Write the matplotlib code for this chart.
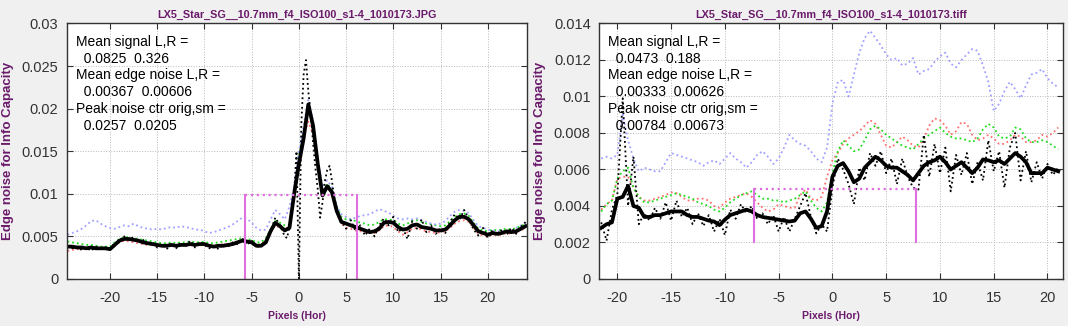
import numpy as np
import matplotlib.pyplot as plt

plt.rcParams['font.family'] = ['Liberation Sans', 'DejaVu Sans']
plt.rcParams['axes.unicode_minus'] = False

# ---------------- data (noise values in units of 1e-3) ----------------
titles = ["LX5_Star_SG__10.7mm_f4_ISO100_s1-4_1010173.JPG",
          "LX5_Star_SG__10.7mm_f4_ISO100_s1-4_1010173.tiff"]
notes = ["Mean signal L,R =\n  0.0825  0.326\nMean edge noise L,R =\n  0.00367  0.00606\n"
         "Peak noise ctr orig,sm =\n  0.0257  0.0205",
         "Mean signal L,R =\n  0.0473  0.188\nMean edge noise L,R =\n  0.00333  0.00626\n"
         "Peak noise ctr orig,sm =\n  0.00784  0.00673"]

# left panel (JPG)
x_L = np.arange(-24.5, 24.01, 0.5)
xo_L = np.concatenate([np.arange(-24.5, -1.4, 0.5), np.arange(-1.25, 4.6, 0.25), np.arange(5, 24.1, 0.5)])
orig_L = [3.9, 3.6, 3.8, 3.4, 3.7, 3.3, 3.8, 3.5, 3.7, 3.6,
          4.2, 4.5, 5.0, 4.6, 4.9, 4.3, 4.6, 3.9, 4.3, 3.7,
          4.1, 3.5, 4.2, 3.6, 4.3, 3.8, 4.5, 3.7, 4.3, 4.0,
          3.6, 3.9, 3.5, 4.1, 3.8, 4.3, 4.1, 4.8, 4.0, 4.5,
          3.7, 4.0, 4.5, 5.6, 7.2, 6.3, 5.0,
          4.8, 6.2, 8.0, 10.2, 15.0, 0.0, 18.0, 24.0, 25.7, 22.0, 19.5, 16.0,
          13.0, 10.5, 7.2, 9.0, 11.5, 12.8, 13.3, 11.5, 9.5, 8.3, 7.2, 6.8,
          5.9, 6.9, 5.6, 6.3, 5.1, 5.9, 5.0, 6.3, 7.1, 6.3,
          7.3, 5.5, 6.0, 4.7, 6.8, 5.9, 7.0, 5.5, 6.3, 5.3,
          6.0, 5.4, 6.7, 7.6, 7.0, 8.1, 7.0, 5.8, 5.1, 6.0,
          4.8, 5.7, 5.1, 5.8, 5.2, 6.0, 5.3, 6.1, 6.7]
smooth_L = [3.8, 3.8, 3.7, 3.7, 3.6, 3.7, 3.6, 3.6, 3.6, 3.5,
            4.0, 4.5, 4.7, 4.7, 4.6, 4.5, 4.3, 4.2, 4.1, 4.0,
            3.9, 3.9, 4.0, 3.9, 4.0, 4.0, 4.1, 4.0, 4.1, 4.1,
            3.9, 3.8, 3.9, 3.9, 4.0, 4.1, 4.3, 4.5, 4.4, 4.3,
            3.9, 3.9, 4.3, 5.6, 6.6, 6.2, 5.7, 6.0, 10.0, 13.5,
            16.5, 20.5, 18.0, 13.5, 9.8, 10.9, 10.2, 8.0, 6.7, 6.5,
            6.3, 6.1, 5.9, 5.7, 5.5, 5.6, 5.9, 6.6, 6.7, 6.6,
            6.1, 5.8, 5.9, 6.3, 6.4, 6.1, 6.0, 5.9, 5.7, 5.7,
            5.8, 6.3, 6.9, 7.3, 7.3, 7.0, 6.3, 5.6, 5.4, 5.2,
            5.4, 5.3, 5.4, 5.6, 5.5, 5.6, 5.9, 6.2]
red_L = [3.3, 3.4, 3.5, 3.5, 3.6, 3.6, 3.6, 3.5, 3.5, 3.5,
         3.9, 4.3, 4.5, 4.4, 4.3, 4.2, 4.1, 4.0, 4.0, 3.9,
         3.9, 3.8, 3.9, 3.9, 4.0, 4.1, 4.0, 4.1, 4.2, 4.0,
         3.9, 3.9, 4.0, 4.1, 4.1, 4.2, 4.4, 4.5, 4.4, 4.2,
         4.0, 4.1, 4.6, 5.5, 6.3, 6.0, 5.8, 6.2, 9.4, 14.0,
         16.8, 18.5, 17.0, 13.0, 10.0, 10.8, 10.0, 7.8, 6.5, 6.0,
         5.9, 5.7, 5.6, 5.5, 5.4, 5.4, 5.7, 6.2, 6.3, 6.1,
         5.6, 5.2, 5.5, 5.9, 6.0, 5.8, 5.6, 5.5, 5.4, 5.5,
         5.6, 6.0, 6.5, 6.8, 6.9, 6.7, 6.0, 5.3, 5.1, 5.0,
         5.2, 5.1, 5.2, 5.4, 5.3, 5.5, 5.7, 6.0]
green_L = [4.4, 4.3, 4.2, 4.1, 4.0, 4.0, 3.9, 3.8, 3.8, 3.8,
           4.3, 4.7, 4.9, 4.9, 4.8, 4.7, 4.6, 4.5, 4.4, 4.3,
           4.2, 4.2, 4.3, 4.2, 4.3, 4.3, 4.4, 4.3, 4.3, 4.4,
           4.2, 4.2, 4.3, 4.4, 4.5, 4.6, 4.7, 4.8, 4.7, 4.6,
           4.3, 4.3, 4.8, 5.8, 6.8, 6.6, 6.3, 6.4, 10.0, 14.5,
           17.0, 20.0, 17.8, 13.5, 10.2, 11.2, 10.5, 8.5, 7.3, 7.0,
           7.0, 6.8, 6.6, 6.5, 6.3, 6.4, 6.7, 7.0, 7.0, 6.9,
           6.5, 6.3, 6.5, 6.8, 6.9, 6.7, 6.5, 6.4, 6.3, 6.2,
           6.3, 6.8, 7.3, 7.6, 7.7, 7.4, 6.6, 5.9, 5.7, 5.6,
           5.8, 5.7, 5.8, 5.9, 5.8, 6.0, 6.2, 6.5]
blue_L = [5.2, 5.4, 5.6, 5.9, 6.3, 6.8, 6.9, 6.5, 6.2, 6.0,
          5.9, 6.1, 6.3, 6.2, 6.5, 6.2, 6.0, 5.9, 5.8, 5.9,
          5.8, 6.0, 6.1, 6.0, 6.2, 6.1, 6.0, 5.8, 5.8, 5.6,
          5.4, 5.5, 5.7, 5.9, 6.1, 6.4, 6.8, 7.2, 7.1, 6.6,
          6.0, 5.7, 5.8, 7.0, 8.1, 7.6, 7.0, 8.5, 10.8, 15.0,
          18.0, 21.0, 18.5, 14.0, 10.8, 11.6, 10.8, 8.6, 7.6, 7.3,
          7.0, 7.2, 7.4, 7.5, 7.6, 7.9, 8.2, 8.0, 7.8, 7.4,
          7.1, 7.0, 7.1, 7.0, 7.1, 6.9, 6.7, 6.5, 6.4, 6.5,
          6.8, 7.4, 7.9, 8.1, 8.0, 7.7, 6.9, 6.2, 6.0, 5.8,
          5.7, 5.6, 5.6, 5.5, 5.6, 6.0, 6.3, 6.6]

# right panel (tiff)
x_R = np.arange(-21.5, 21.01, 0.5)
orig_R = [3.1, 2.1, 3.8, 4.6, 9.9, 4.0, 6.7, 3.0, 3.6, 3.2,
          3.9, 3.3, 4.2, 3.2, 4.3, 3.4, 3.9, 3.0, 3.6, 2.9,
          3.5, 2.6, 3.3, 2.4, 3.8, 3.3, 4.1, 3.6, 4.0, 3.3,
          3.6, 3.0, 3.5, 2.6, 3.4, 2.6, 3.3, 4.0, 4.7, 3.4,
          2.5, 3.0, 2.6, 5.0, 6.6, 6.0, 5.2, 4.1, 6.1, 5.4,
          6.9, 6.2, 7.0, 5.8, 6.6, 5.2, 6.6, 5.6, 5.0, 4.9,
          7.9, 5.6, 7.4, 5.8, 7.2, 4.8, 6.8, 5.7, 6.9, 5.2,
          6.4, 5.4, 7.6, 5.9, 7.0, 5.0, 7.2, 8.0, 5.4, 7.0,
          5.3, 6.4, 5.5, 6.3, 5.7, 6.1]
smooth_R = [2.8, 3.0, 3.1, 4.4, 4.5, 5.1, 4.0, 3.9, 3.4, 3.4,
            3.5, 3.5, 3.6, 3.7, 3.7, 3.7, 3.5, 3.4, 3.4, 3.3,
            3.2, 3.15, 2.95, 3.25, 3.5, 3.6, 3.7, 3.8, 3.7, 3.5,
            3.4, 3.35, 3.3, 3.25, 3.2, 3.15, 3.2, 3.6, 3.7, 3.3,
            2.8, 2.9, 3.7, 5.6, 6.2, 6.35, 5.9, 5.3, 5.5, 6.1,
            6.4, 6.7, 6.5, 6.2, 6.1, 6.1, 5.9, 5.7, 5.4, 5.8,
            6.2, 6.4, 6.5, 6.7, 6.4, 6.0, 6.2, 6.4, 6.1, 5.8,
            6.1, 6.55, 6.5, 6.4, 6.5, 6.3, 6.6, 6.9, 6.7, 6.4,
            5.8, 5.8, 5.8, 6.1, 6.0, 5.9]
red_R = [3.8, 4.1, 4.3, 5.5, 5.6, 5.6, 5.0, 4.5, 4.3, 4.3,
         4.4, 4.5, 4.6, 4.75, 4.7, 4.5, 4.3, 4.3, 4.4, 4.4,
         4.3, 4.0, 3.9, 4.2, 4.4, 4.5, 4.6, 4.7, 4.5, 4.2,
         3.9, 3.7, 3.8, 4.1, 4.0, 3.9, 3.9, 4.6, 4.9, 4.4,
         4.3, 4.5, 5.6, 6.5, 6.9, 7.4, 7.7, 7.9, 8.1, 8.4,
         8.7, 8.5, 7.9, 7.3, 7.2, 7.5, 7.8, 7.6, 7.3, 7.2,
         7.7, 8.4, 8.8, 8.7, 8.4, 7.9, 8.1, 8.6, 8.5, 7.9,
         7.6, 7.7, 7.9, 7.7, 7.4, 7.4, 7.6, 7.9, 7.8, 7.5,
         7.5, 7.6, 7.9, 7.8, 8.0, 8.3]
green_R = [3.7, 4.1, 4.3, 5.5, 5.9, 6.1, 5.0, 4.5, 4.2, 4.2,
           4.3, 4.4, 4.5, 4.6, 4.7, 4.6, 4.5, 4.4, 4.2, 4.1,
           4.0, 3.8, 3.7, 3.9, 4.2, 4.4, 4.6, 4.7, 4.8, 4.6,
           4.4, 4.4, 4.3, 4.3, 4.2, 4.3, 4.4, 4.6, 4.8, 4.3,
           3.9, 3.7, 4.2, 5.8, 7.0, 7.6, 7.3, 7.0, 7.1, 7.6,
           8.2, 8.4, 8.2, 7.9, 7.7, 7.5, 7.3, 7.2, 7.1, 7.4,
           7.7, 7.9, 8.1, 8.3, 8.0, 7.8, 7.7, 7.7, 7.6, 7.5,
           7.7, 8.2, 8.5, 8.3, 7.8, 7.7, 7.8, 8.3, 8.2, 7.7,
           7.5, 7.5, 7.6, 7.5, 7.3, 7.1]
blue_R = [6.6, 6.7, 6.6, 6.8, 9.0, 7.6, 6.6, 5.9, 6.1, 6.0,
          5.9, 5.9, 6.4, 6.9, 6.8, 6.7, 6.6, 6.5, 6.4, 6.2,
          6.4, 6.5, 6.3, 6.6, 6.9, 6.6, 6.4, 6.1, 6.4, 6.8,
          7.0, 6.7, 6.3, 6.6, 7.2, 7.9, 7.6, 7.4, 7.3, 7.0,
          6.6, 6.4, 7.2, 9.6, 10.8, 10.9, 10.0, 11.2, 12.4, 13.2,
          13.6, 13.2, 12.8, 12.3, 12.0, 12.1, 11.7, 11.8, 12.1, 11.2,
          11.4, 11.5, 11.9, 12.2, 12.4, 11.8, 11.6, 12.0, 12.3, 12.6,
          12.5, 11.7, 10.8, 9.2, 9.6, 10.3, 10.8, 10.4, 9.9, 10.6,
          11.2, 11.3, 11.5, 11.0, 10.7, 10.5]

# magenta region markers: [x_left, x_right], level, base
region_L, level_L, base_L = [-5.75, 6.18], 9.9, 0.0
region_R, level_R, base_R = [-7.3, 7.8], 4.95, 2.0

xlims = [(-24.6, 24.1), (-21.7, 21.45)]
ylims = [(0, 0.03), (0, 0.014)]
yticks = [np.arange(0, 0.0301, 0.005), np.arange(0, 0.01401, 0.002)]

purple = '#6a1a6a'
mag = '#e070e0'

fig = plt.figure(figsize=(10.68, 3.26), dpi=100, facecolor='#f0f0f0')
ax1 = fig.add_axes([0.0623, 0.1442, 0.4307, 0.7838])
ax2 = fig.add_axes([0.5609, 0.1442, 0.4345, 0.7838])

panels = [
    (ax1, x_L, xo_L, orig_L, smooth_L, red_L, green_L, blue_L, region_L, level_L, base_L),
    (ax2, x_R, x_R, orig_R, smooth_R, red_R, green_R, blue_R, region_R, level_R, base_R),
]

for i, (ax, x, xo, orig, sm, red, green, blue, reg, lev, base) in enumerate(panels):
    s = 1e-3
    ax.plot(x, np.array(red) * s, ':', color='#ff7070', lw=1.3)
    ax.plot(x, np.array(green) * s, ':', color='#20dd20', lw=1.3)
    ax.plot(x, np.array(blue) * s, ':', color='#a0a0ff', lw=1.3)
    ax.plot(xo, np.array(orig) * s, ':', color='black', lw=1.3)
    ax.plot(x, np.array(sm) * s, '-', color='black', lw=2.7)

    # region markers
    ax.plot([reg[0], reg[0]], [base * s, lev * s], '-', color=mag, lw=1.5)
    ax.plot([reg[1], reg[1]], [base * s, lev * s], '-', color=mag, lw=1.5)
    ax.plot(reg, [lev * s, lev * s], ':', color=mag, lw=1.6)

    ax.set_xlim(*xlims[i])
    ax.set_ylim(*ylims[i])
    ax.set_xticks(np.arange(-20, 21, 5))
    ax.set_yticks(yticks[i])
    ax.set_yticklabels([('%g' % v) for v in yticks[i]])
    ax.grid(True, ls=':', color='#b8b8b8', lw=0.7)
    ax.tick_params(direction='in', top=True, right=True, length=4, width=0.8,
                   labelsize=10.5, labelcolor='#333333', color='#333333')
    ax.tick_params(axis='x', pad=9)
    ax.tick_params(axis='y', pad=6)
    for sp in ax.spines.values():
        sp.set_color('#333333')
        sp.set_linewidth(1.0)

    ax.set_title(titles[i], fontsize=7.8, fontweight='bold', color=purple, pad=4)
    ax.set_xlabel("Pixels (Hor)", fontsize=7.5, fontweight='bold', color=purple)
    ax.xaxis.set_label_coords(0.5, -0.125)
    ax.set_ylabel("Edge noise for Info Capacity", fontsize=9.5, fontweight='bold', color=purple)
    ax.yaxis.set_label_coords(-0.115, 0.5)

    ax.text(0.02, 0.955, notes[i], transform=ax.transAxes, fontsize=10, va='top', ha='left',
            linespacing=1.25, color='black')

fig.savefig('out.png', dpi=100, facecolor=fig.get_facecolor())
